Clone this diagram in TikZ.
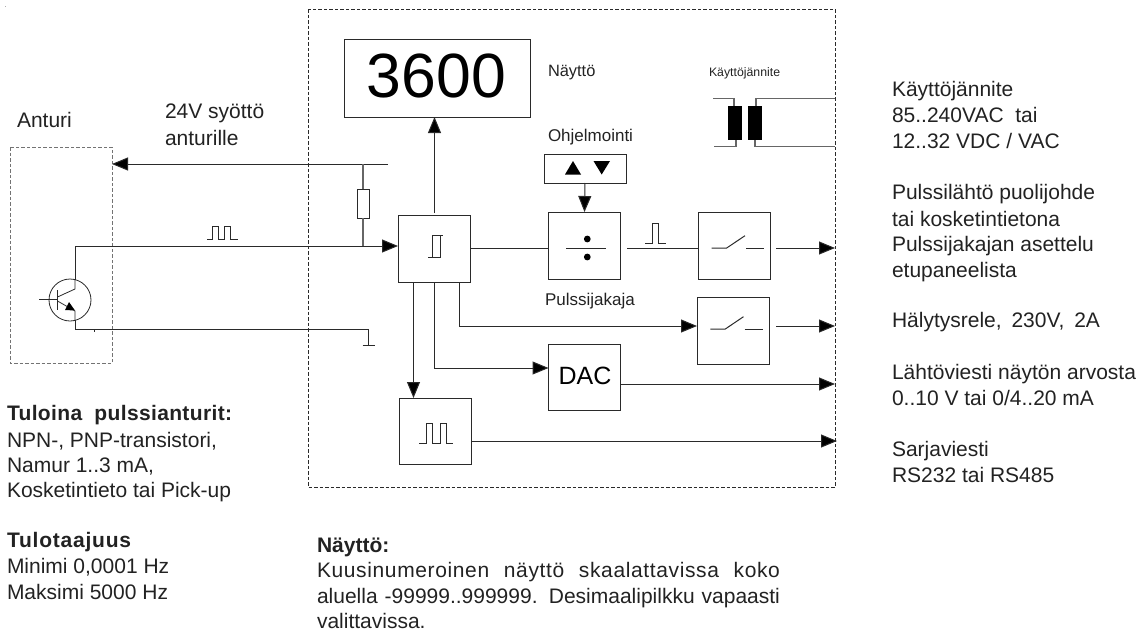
\documentclass[tikz,border=0pt]{standalone}
\usepackage{fontspec}
\setmainfont{Liberation Sans}
\usetikzlibrary{arrows.meta}
\definecolor{ink}{HTML}{222222}
\definecolor{wire}{HTML}{2A2A2A}
\newcommand{\fs}[1]{\fontsize{#1}{#1}\selectfont}
\tikzset{
  x=1pt,y=-1pt,
  lab/.style={anchor=base west,inner sep=0pt,outer sep=0pt,text=ink,font=\fs{21}},
  head/.style={lab,font=\fs{21}\bfseries},
  box/.style={draw=wire,line width=1pt,inner sep=0pt,outer sep=0pt,minimum width=#1},
  frame/.style={draw=wire,line width=0.9pt,dash pattern=on 3.5pt off 2pt},
  ln/.style={draw=wire,line width=1pt},
  fine/.style={draw=wire,line width=0.8pt},
  arr/.style={ln,-{Triangle[length=16pt,width=13pt,fill=black]}},
}
\begin{document}
\begin{tikzpicture}
\useasboundingbox (0,0) rectangle (1144,632);
\node[lab,font=\fs{6}] (dot) at (5,7) {.};
% frames
\draw[frame] (308,9) rectangle (835,487);
\draw[frame,draw=gray!90!black] (10,147) rectangle (112,363);
% boxes
\node[box=186pt,minimum height=78pt] (disp) at (437,78) {};
\node[box=72pt,minimum height=67pt] (sch) at (434,249) {};
\node[box=72pt,minimum height=67pt] (div) at (584.5,245.5) {};
\node[box=72pt,minimum height=67pt] (swa) at (734.5,245.5) {};
\node[box=72pt,minimum height=67pt] (swb) at (733,330.5) {};
\node[box=72pt,minimum height=66pt] (dac) at (584.5,377) {};
\node[box=72pt,minimum height=66pt] (pul) at (435,431) {};
\node[box=82pt,minimum height=29pt] (prog) at (585,168.5) {};
\node[box=12pt,minimum height=29pt] (res) at (363,203.5) {};
% box contents
\node[anchor=base,inner sep=0pt,font=\fs{62.5},text=black] (dispt) at (436.5,97) {3600};
\node[anchor=base,inner sep=0pt,font=\fs{25},text=black] (dact) at (585,384) {DAC};
% coordinates
\coordinate (vin) at (388,164);
\coordinate (sens) at (112,164);
\coordinate (col) at (75,246);
\coordinate (emi) at (75,329);
\coordinate (gnd) at (368,329);
\coordinate (gndb) at (368,345);
\coordinate (outa) at (835,248);
\coordinate (outb) at (835,326);
\coordinate (outc) at (835,384);
\coordinate (outd) at (837,441);
% wires
\draw[arr] (vin) -- (sens);
\draw[ln,draw=gray!80!black,line width=1.3pt] (363,164) -- (res.north);
\draw[ln,draw=gray!80!black,line width=1.3pt] (res.south) -- (363,246);
\draw[arr] (col) -- (sch.west |- col);
\draw[ln] (75,280) -- (col);
\draw[ln] (75,320) -- (emi) -- (gnd) -- (gndb);
\draw[ln] (362.5,345) -- (374.5,345);
\draw[fine] (94,329) -- (94,332);
\draw[arr] (434.5,213) -- (434.5,117);
\draw[ln] (sch.east |- outa) -- (div.west |- outa);
\draw[ln] (627,248) -- (swa.west |- outa);
\draw[arr] (776,248) -- (outa);
\draw[arr] (prog.south) -- (div.north);
\draw[arr] (459,283) |- (swb.west |- outb);
\draw[arr] (776,326) -- (outb);
\draw[arr] (434.5,283) |- (dac.west |- 0,368);
\draw[arr] (dac.east |- outc) -- (outc);
\draw[arr] (413.5,283) -- (413.5,398);
\draw[arr] (pul.east |- outd) -- (outd);
% transistor
\draw[fine] (70,300) circle (21);
\draw[fine] (39,299.5) -- (57.5,299.5);
\draw[ln] (57.5,290) -- (57.5,310);
\draw[fine] (57.5,297) -- (75,289) -- (75,280);
\draw[fine] (57.5,301) -- (75,311) -- (75,320);
\fill[black] (65,310) -- (75,310.5) -- (69,302) -- cycle;
% transformer
\fill[black] (728,106) rectangle (742,140);
\fill[black] (748,106) rectangle (762,140);
\draw[ln,draw=gray!80!black,line width=1.2pt] (713,98.5) -- (734,98.5) -- (734,106);
\draw[ln,draw=gray!80!black,line width=1.2pt] (714,146.5) -- (736,146.5) -- (736,140);
\draw[ln,draw=gray!80!black,line width=1.2pt] (756,106) -- (756,98.5) -- (835,98.5);
\draw[ln,draw=gray!80!black,line width=1.2pt] (755,140) -- (755,146.5) -- (835,146.5);
% prog triangles
\fill[black] (565,174.5) -- (581,174.5) -- (573,161) -- cycle;
\fill[black] (593.5,161) -- (610,161) -- (601.7,174.5) -- cycle;
% divide symbol
\draw[ln] (566,248) -- (606,248);
\fill[black] (587.3,239) circle (3.4);
\fill[black] (587.3,257) circle (3.4);
% pulse over wire
\draw[ln] (645,243) -- (652,243) -- (652,223.7) -- (658,223.7) -- (658,243) -- (665.7,243);
% switches
\draw[ln] (711.7,248) -- (726.7,248) -- (745,235.7);
\draw[ln] (746,248) -- (764,248);
\draw[ln] (710.3,329) -- (725.3,329) -- (743.5,316.7);
\draw[ln] (744.5,329) -- (762.5,329);
% hysteresis
\draw[line width=0.6pt,draw=wire] (428,257.7) -- (441,257.7);
\draw[line width=0.6pt,draw=wire] (432.3,257.7) -- (432.3,235.7) -- (442.7,235.7);
\draw[line width=0.6pt,draw=wire] (440.7,235.7) -- (440.7,257.7);
% pulse trains
\draw[ln] (419.3,443.3) -- (426.7,443.3) -- (426.7,423.3) -- (432.7,423.3) -- (432.7,443.3) -- (440,443.3) -- (440,423.3) -- (446.7,423.3) -- (446.7,443.3) -- (452.7,443.3);
\draw[fine] (207.3,239) -- (212.7,239) -- (212.7,226.7) -- (218.3,226.7) -- (218.3,239) -- (224.3,239) -- (224.3,226.7) -- (230.7,226.7) -- (230.7,239) -- (237.7,239);
% labels
\node[lab] (t1) at (17,127) {Anturi};
\node[lab] (t2) at (165,118) {24V syöttö};
\node[lab] (t3) at (165,145) {anturille};
\node[lab,font=\fs{16.4}] (t4) at (548,76) {Näyttö};
\node[lab,font=\fs{12.3}] (t5) at (709,76) {Käyttöjännite};
\node[lab,font=\fs{17}] (t6) at (548,141) {Ohjelmointi};
\node[lab,font=\fs{17}] (t7) at (545,305) {Pulssijakaja};
% right text
\node[lab] (r1) at (892,96) {Käyttöjännite};
\node[lab] (r2) at (892,122) {85..240VAC\ \ tai};
\node[lab] (r3) at (892,148) {12..32 VDC / VAC};
\node[lab] (r4) at (892,199) {Pulssilähtö puolijohde};
\node[lab] (r5) at (892,226) {tai kosketintietona};
\node[lab] (r6) at (892,251) {Pulssijakajan asettelu};
\node[lab] (r7) at (892,277) {etupaneelista};
\node[lab] (r8) at (892,327) {Hälytysrele,\hspace{4pt} 230V,\hspace{4pt} 2A};
\node[lab] (r9) at (892,379) {Lähtöviesti näytön arvosta};
\node[lab] (r10) at (892,405) {0..10 V tai 0/4..20 mA};
\node[lab] (r11) at (892,456) {Sarjaviesti};
\node[lab] (r12) at (892,482) {RS232 tai RS485};
% left text
\node[head] (l1) at (7,420) {\addfontfeature{LetterSpace=1.7}Tuloina\hspace{6pt} pulssianturit:};
\node[lab] (l2) at (7,447) {NPN-, PNP-transistori,};
\node[lab] (l3) at (7,472) {Namur 1..3 mA,};
\node[lab] (l4) at (7,497) {Kosketintieto tai Pick-up};
\node[head] (l5) at (7,547) {\addfontfeature{LetterSpace=3.7}Tulotaajuus};
\node[lab] (l6) at (7,573) {Minimi 0,0001 Hz};
\node[lab] (l7) at (7,599) {Maksimi 5000 Hz};
% bottom text
\node[head] (b1) at (317,552) {Näyttö:};
\node[lab] (b2) at (317,577) {\makebox[463pt][s]{\addfontfeature{LetterSpace=3}Kuusinumeroinen näyttö skaalattavissa koko}};
\node[lab] (b3) at (317,603) {\makebox[463pt][s]{aluella -99999..999999. Desimaalipilkku vapaasti}};
\node[lab] (b4) at (317,628) {valittavissa.};
\end{tikzpicture}
\end{document}
